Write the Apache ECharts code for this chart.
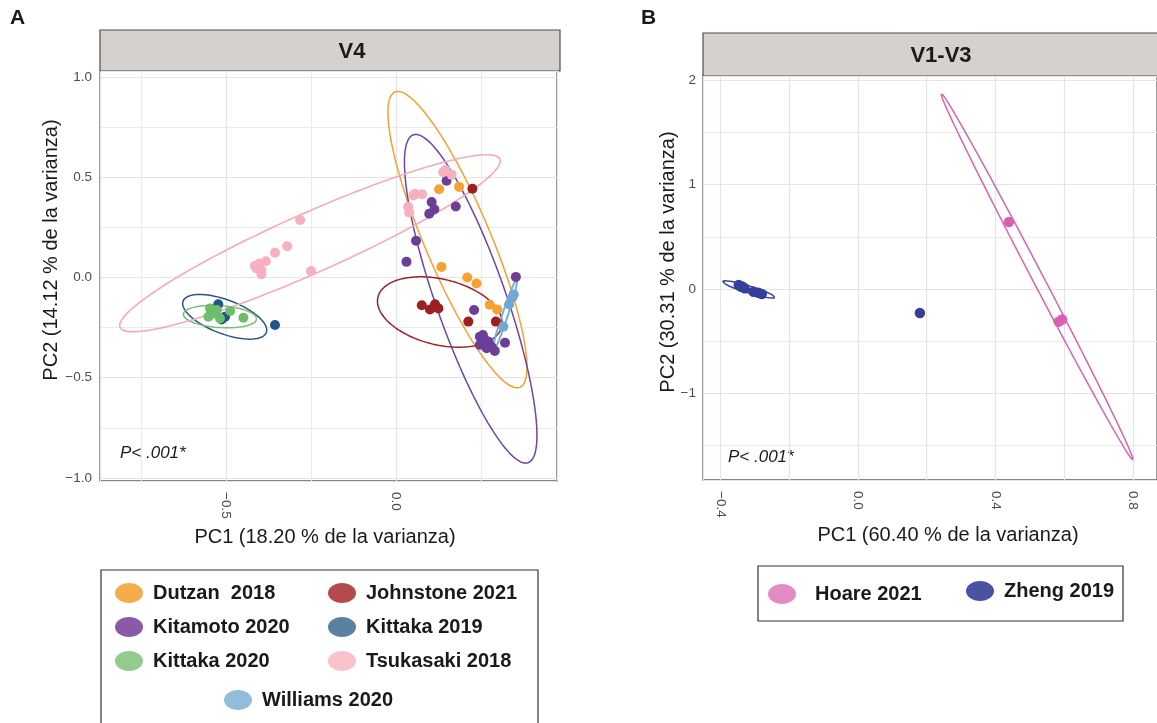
<!DOCTYPE html>
<html><head><meta charset="utf-8">
<script src="https://cdn.jsdelivr.net/npm/echarts@6/dist/echarts.min.js"></script>
<style>html,body{margin:0;padding:0;background:#fff}#c{width:1157px;height:723px}</style>
</head><body><div id="c"></div>
<script>
// ---------- Panel A (V4) points [PC1, PC2] ----------
const dutzan2018 = [[0.127,0.440],[0.186,0.452],[0.134,0.053],[0.210,0.000],[0.237,-0.030],[0.276,-0.136],[0.298,-0.159]];
const johnstone2021 = [[0.225,0.443],[0.076,-0.138],[0.100,-0.159],[0.115,-0.133],[0.125,-0.154],[0.213,-0.220],[0.294,-0.220]];
const kitamoto2020 = [[0.149,0.483],[0.105,0.376],[0.113,0.340],[0.098,0.318],[0.176,0.354],[0.059,0.183],[0.031,0.078],[0.353,0.003],[0.230,-0.162],[0.247,-0.295],[0.262,-0.311],[0.247,-0.336],[0.267,-0.353],[0.291,-0.366],[0.281,-0.345],[0.256,-0.287],[0.272,-0.320],[0.321,-0.325]];
const kittaka2019 = [[-0.523,-0.133],[-0.503,-0.196],[-0.513,-0.209],[-0.356,-0.237]];
const kittaka2020 = [[-0.547,-0.154],[-0.537,-0.179],[-0.552,-0.196],[-0.518,-0.204],[-0.488,-0.167],[-0.449,-0.201],[-0.527,-0.162]];
const tsukasaki2018 = [[-0.282,0.287],[-0.320,0.156],[-0.356,0.124],[-0.383,0.081],[-0.402,0.070],[-0.415,0.058],[-0.396,0.036],[-0.396,0.016],[-0.410,0.045],[-0.250,0.032],[0.146,0.536],[0.164,0.512],[0.139,0.525],[0.056,0.417],[0.077,0.415],[0.051,0.409],[0.036,0.353],[0.039,0.324]];
const williams2020 = [[0.347,-0.085],[0.343,-0.100],[0.333,-0.135],[0.316,-0.245]];

// ---------- Panel B (V1-V3) points ----------
const hoare2021 = [[0.439,0.642],[0.594,-0.293],[0.584,-0.313]];
const zheng2019 = [[-0.347,0.039],[-0.340,0.020],[-0.337,0.023],[-0.330,0.007],[-0.304,-0.026],[-0.290,-0.036],[-0.280,-0.049],[0.180,-0.231]];

// ---------- confidence ellipses: [centre x, centre y, axis1 x, axis1 y, axis2 x, axis2 y] ----------
const ellDutzan = [0.181, 0.189, 0.184, -0.737, 0.0894, 0.0636];
const ellJohnstone = [0.129, -0.172, 0.182, -0.0745, 0.0228, 0.159];
const ellKitamoto = [0.220, -0.106, 0.169, -0.818, 0.0972, 0.0573];
const ellKittaka2019 = [-0.504, -0.196, 0.1226, -0.0785, 0.0177, 0.079];
const ellKittaka2020 = [-0.518, -0.195, 0.108, -0.0124, -0.0022, -0.0545];
const ellTsukasaki = [-0.253, 0.171, 0.559, 0.420, 0.0359, -0.136];
const ellWilliams = [0.3205, -0.190, 0.0355, 0.1813, 0.008, -0.0043];
const ellHoare = [0.521, 0.1175, 0.279, -1.7555, 0.0141, 0.0253];
const ellZheng = [-0.318, -0.0045, 0.076, -0.0765, 0.0029, 0.032];

// ---------- labels ----------
const groupNamesA = ['Dutzan  2018','Johnstone 2021','Kitamoto 2020','Kittaka 2019','Kittaka 2020','Tsukasaki 2018','Williams 2020'];
const groupNamesB = ['Hoare 2021','Zheng 2019'];
const titleA = 'V4', titleB = 'V1-V3';
const xTitleA = 'PC1 (18.20 % de la varianza)', yTitleA = 'PC2 (14.12 % de la varianza)';
const xTitleB = 'PC1 (60.40 % de la varianza)', yTitleB = 'PC2 (30.31 % de la varianza)';
const pText = 'P< .001*';

const FF = '"Liberation Sans", Arial, sans-serif';
const groupsA = [
  {name: groupNamesA[0], data: dutzan2018, ell: ellDutzan, c: '#f6a233', lc: '#f5a030', leg: '#f5ad4c', w: 1.5},
  {name: groupNamesA[1], data: johnstone2021, ell: ellJohnstone, c: '#9c2021', lc: '#9b2226', leg: '#b44a4b', w: 1.5},
  {name: groupNamesA[2], data: kitamoto2020, ell: ellKitamoto, c: '#6c3e98', lc: '#6f45a0', leg: '#8a5aa8', w: 1.5},
  {name: groupNamesA[3], data: kittaka2019, ell: ellKittaka2019, c: '#23548a', lc: '#2b5686', leg: '#5a80a2', w: 1.5},
  {name: groupNamesA[4], data: kittaka2020, ell: ellKittaka2020, c: '#6cbe6a', lc: '#74c270', leg: '#91cc8c', w: 1.5},
  {name: groupNamesA[5], data: tsukasaki2018, ell: ellTsukasaki, c: '#f6b0be', lc: '#f3aab9', leg: '#f8c3cc', w: 1.6},
  {name: groupNamesA[6], data: williams2020, ell: ellWilliams, c: '#6fa9d3', lc: '#78afd8', leg: '#93bdda', w: 2}
];
const groupsB = [
  {name: groupNamesB[0], data: hoare2021, ell: ellHoare, c: '#d860b2', lc: '#d763b4', leg: '#e38bc4', w: 1.5},
  {name: groupNamesB[1], data: zheng2019, ell: ellZheng, c: '#353f9b', lc: '#3c47a0', leg: '#4b52a2', w: 1.5}
];

function ellipseOutline(e) {
  const pts = [];
  for (let i = 0; i <= 160; i++) {
    const t = 2 * Math.PI * i / 160;
    pts.push([e[0] + e[2] * Math.cos(t) + e[4] * Math.sin(t), e[1] + e[3] * Math.cos(t) + e[5] * Math.sin(t)]);
  }
  return pts;
}
function fmtStep(step, dec) {
  return function (v) {
    const k = v / step;
    if (Math.abs(k - Math.round(k)) > 1e-6) return '';
    const s = Math.abs(v).toFixed(dec);
    return (v < -1e-9 ? '\u2212' : '') + s;
  };
}

const series = [];
function addGroups(groups, gi, size) {
  groups.forEach(g => {
    series.push({type: 'line', name: g.name + ' ellipse', xAxisIndex: gi, yAxisIndex: gi,
      data: ellipseOutline(g.ell), showSymbol: false, symbol: 'none', smooth: false, silent: true,
      lineStyle: {color: g.lc, width: g.w}, z: 2});
  });
  groups.forEach(g => {
    series.push({type: 'scatter', name: g.name, xAxisIndex: gi, yAxisIndex: gi, data: g.data,
      symbolSize: size, itemStyle: {color: g.c, opacity: 1}, z: 3});
  });
}
addGroups(groupsA, 0, 10);
addGroups(groupsB, 1, 10.5);

const axisLab = {fontSize: 13.5, color: '#4d4d4d', fontFamily: FF};
const split = {show: true, lineStyle: {color: '#e4e4e4', width: 1.2}};
const minorSplit = {show: true, lineStyle: {color: '#ebebeb', width: 1}};

const ICON = 'path://M0,10a14,10 0 1,0 28,0a14,10 0 1,0 -28,0z';
function legendOf(groups, names, left, top, extra) {
  return Object.assign({
    data: names.map(n => { const g = groups.find(x => x.name === n); return {name: n, itemStyle: {color: g.leg, borderWidth: 0}}; }),
    orient: 'vertical', left: left, top: top, itemWidth: 28, itemHeight: 22, itemGap: 12, padding: 0,
    icon: ICON, selectedMode: false,
    textStyle: {fontSize: 20, fontWeight: 'bold', color: '#1a1a1a', fontFamily: FF, padding: [0, 0, 0, 5], lineHeight: 22}
  }, extra || {});
}

const txt = (x, y, text, font, align, extra) => Object.assign({type: 'text', x: x, y: y, silent: true,
  style: {text: text, font: font, fill: '#1a1a1a', align: align || 'center', verticalAlign: 'middle'}}, extra || {});

const option = {
  animation: false,
  backgroundColor: '#ffffff',
  grid: [
    {left: 100, top: 71, width: 457, height: 410, show: true, backgroundColor: '#fff', borderColor: '#5e5e5e', borderWidth: 1.3},
    {left: 703, top: 76, width: 464, height: 404, show: true, backgroundColor: '#fff', borderColor: '#5e5e5e', borderWidth: 1.3}
  ],
  xAxis: [
    {gridIndex: 0, type: 'value', min: -0.871, max: 0.474, splitNumber: 3,
      axisLine: {show: false}, axisTick: {show: false},
      axisLabel: Object.assign({rotate: -90, margin: 11, formatter: fmtStep(0.5, 1), showMinLabel: false, showMaxLabel: false}, axisLab),
      splitLine: split, minorTick: {show: false, splitNumber: 2}, minorSplitLine: minorSplit},
    {gridIndex: 1, type: 'value', min: -0.451, max: 0.87, splitNumber: 7,
      axisLine: {show: false}, axisTick: {show: false},
      axisLabel: Object.assign({rotate: -90, margin: 11, formatter: fmtStep(0.4, 1), showMinLabel: false, showMaxLabel: false}, axisLab),
      splitLine: split}
  ],
  yAxis: [
    {gridIndex: 0, type: 'value', min: -1.015, max: 1.03, splitNumber: 4,
      axisLine: {show: false}, axisTick: {show: false},
      axisLabel: Object.assign({margin: 8, formatter: fmtStep(0.5, 1), showMinLabel: false, showMaxLabel: false}, axisLab),
      splitLine: split, minorTick: {show: false, splitNumber: 2}, minorSplitLine: minorSplit},
    {gridIndex: 1, type: 'value', min: -1.83, max: 2.04, splitNumber: 4,
      axisLine: {show: false}, axisTick: {show: false},
      axisLabel: Object.assign({margin: 7, formatter: fmtStep(1, 0), showMinLabel: false, showMaxLabel: false}, axisLab),
      splitLine: split, minorTick: {show: false, splitNumber: 2}, minorSplitLine: minorSplit}
  ],
  legend: [
    legendOf(groupsA, [groupNamesA[0], groupNamesA[2], groupNamesA[4]], 115, 582),
    legendOf(groupsA, [groupNamesA[1], groupNamesA[3], groupNamesA[5]], 328, 582),
    legendOf(groupsA, [groupNamesA[6]], 224, 689),
    legendOf(groupsB, [groupNamesB[0]], 768, 583, {textStyle: {fontSize: 20, fontWeight: 'bold', color: '#1a1a1a', fontFamily: FF, padding: [0, 0, 0, 14], lineHeight: 22}}),
    legendOf(groupsB, [groupNamesB[1]], 966, 580)
  ],
  graphic: [
    {type: 'rect', shape: {x: 100, y: 30, width: 460, height: 41}, style: {fill: '#d5d1cd', stroke: '#4d4d4d', lineWidth: 1.2}, silent: true},
    {type: 'rect', shape: {x: 703, y: 33, width: 470, height: 43}, style: {fill: '#d5d1cd', stroke: '#4d4d4d', lineWidth: 1.2}, silent: true},
    txt(352, 52, titleA, 'bold 22px ' + FF),
    txt(941, 56, titleB, 'bold 22px ' + FF),
    txt(10, 18, 'A', 'bold 21px ' + FF, 'left'),
    txt(641, 18, 'B', 'bold 21px ' + FF, 'left'),
    txt(325, 537, xTitleA, '20px ' + FF),
    txt(948, 535, xTitleB, '20px ' + FF),
    txt(51, 250, yTitleA, '20px ' + FF, 'center', {rotation: Math.PI / 2}),
    txt(668, 262, yTitleB, '20px ' + FF, 'center', {rotation: Math.PI / 2}),
    txt(120, 453, pText, 'italic 17px ' + FF, 'left'),
    txt(728, 457, pText, 'italic 17px ' + FF, 'left'),
    {type: 'rect', shape: {x: 101, y: 570, width: 437, height: 170}, style: {fill: 'none', stroke: '#333', lineWidth: 1.2}, silent: true},
    {type: 'rect', shape: {x: 758, y: 566, width: 365, height: 55}, style: {fill: 'none', stroke: '#333', lineWidth: 1.2}, silent: true}
  ],
  series: series
};
const chart = echarts.init(document.getElementById('c'), null, {renderer: 'canvas'});
chart.setOption(option);
</script></body></html>
